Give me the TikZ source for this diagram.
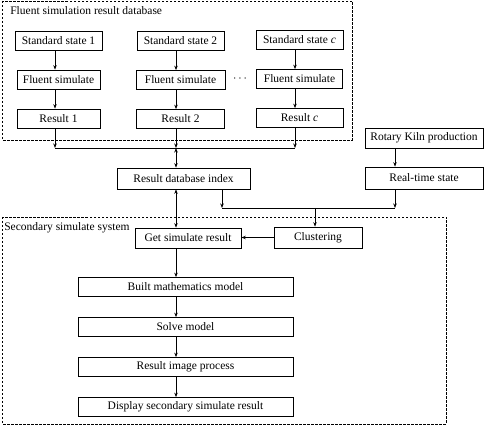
\documentclass[tikz,border=0pt]{standalone}
\usepackage{fontspec}
\setmainfont{Liberation Serif}
\usetikzlibrary{arrows.meta}

\begin{document}
\begin{tikzpicture}[x=1pt, y=-1pt, node distance=39pt, line width=0.7pt,
    >={Stealth[length=4.5pt,width=3.5pt]},
    font=\fontsize{11.5}{13}\selectfont,
    box/.style={draw, rectangle, minimum height=19pt, inner sep=1pt},
    frame/.style={draw, dash pattern=on 2.5pt off 1.5pt}]
  \useasboundingbox (0,0) rectangle (485,427);

  \draw [frame] (2,1) rectangle (352,140);
  \draw [frame] (2,217) rectangle (446,424);
  \node (dbtitle) [anchor=west, inner sep=0pt] at (10,11) {Fluent simulation result database};
  \node (systitle) [anchor=west, inner sep=0pt] at (4,228) {Secondary simulate system};

  \node (ss1) [box, minimum width=87pt] at (58.5,40.5) {Standard state 1};
  \node (fs1) [box, minimum width=83pt, below of=ss1] {Fluent simulate};
  \node (r1) [box, minimum width=83pt, below of=fs1] {Result 1};
  \node (ss2) [box, minimum width=87pt] at (180.5,41) {Standard state 2};
  \node (fs2) [box, minimum width=89pt, below of=ss2] {Fluent simulate};
  \node (r2) [box, minimum width=88pt, below of=fs2] {Result 2};
  \node (ss3) [box, minimum width=87pt] at (299.5,40) {Standard state \textit{c}};
  \node (fs3) [box, minimum width=86pt, below of=ss3] {Fluent simulate};
  \node (r3) [box, minimum width=87pt, below of=fs3] {Result \textit{c}};
  \node (dots) at (240,79) {$\cdots$};

  \node (rkp) [box, minimum width=118pt, minimum height=20pt] at (424,138) {Rotary Kiln production};
  \node (rts) [box, minimum width=118pt, minimum height=22pt] at (424,178) {Real-time state};
  \node (dbi) [box, minimum width=133pt, minimum height=21pt] at (183.5,178.5) {Result database index};
  \node (get) [box, minimum width=106pt, minimum height=20pt] at (188,238) {Get simulate result};
  \node (clu) [box, minimum width=88pt, minimum height=21pt] at (318,237.5) {Clustering};

  \node (bmm) [box, minimum width=215pt] at (185.5,287) {Built mathematics model};
  \node (sm) [box, minimum width=215pt, below of=bmm, node distance=40pt] {Solve model};
  \node (rip) [box, minimum width=215pt, below of=sm, node distance=40pt] {Result image process};
  \node (dsr) [box, minimum width=215pt, below of=rip, node distance=40pt] {Display secondary simulate result};

  % junction points
  \coordinate (bus1) at (55,148);
  \coordinate (bus2) at (176,148);
  \coordinate (bus3) at (295,148);
  \coordinate (join1) at (222,208);
  \coordinate (join2) at (315,208);
  \coordinate (join3) at (395,208);

  \draw [->] (ss1.south -| bus1) -- (fs1.north -| bus1);
  \draw [->] (fs1.south -| bus1) -- (r1.north -| bus1);
  \draw [->] (ss2.south -| bus2) -- (fs2.north -| bus2);
  \draw [->] (fs2.south -| bus2) -- (r2.north -| bus2);
  \draw [->] (ss3.south -| bus3) -- (fs3.north -| bus3);
  \draw [->] (fs3.south -| bus3) -- (r3.north -| bus3);
  \draw [->] (r1.south -| bus1) -- (bus1);
  \draw [->] (r2.south -| bus2) -- (bus2);
  \draw [->] (r3.south -| bus3) -- (bus3);
  \draw (bus1) -- (bus3);
  \draw [<->] (bus2) -- (dbi.north -| bus2);
  \draw [<->] (dbi.south -| bus2) -- (get.north -| bus2);

  \draw [->] (rkp.south -| join3) -- (rts.north -| join3);
  \draw [->] (dbi.south -| join1) -- (join1);
  \draw [->] (rts.south -| join3) -- (join3);
  \draw (join1) -- (join3);
  \draw [->] (join2) -- (clu.north -| join2);
  \draw [->] (clu.west) -- (clu.west -| get.east);

  \draw [->] (get.south -| bus2) -- (bmm.north -| bus2);
  \draw [->] (bmm.south -| bus2) -- (sm.north -| bus2);
  \draw [->] (sm.south -| bus2) -- (rip.north -| bus2);
  \draw [->] (rip.south -| bus2) -- (dsr.north -| bus2);
\end{tikzpicture}
\end{document}
